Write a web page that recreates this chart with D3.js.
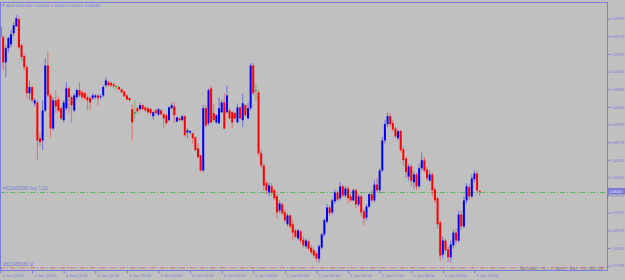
<!DOCTYPE html>
<html>
<head>
<meta charset="utf-8">
<script src="https://cdn.jsdelivr.net/npm/d3@7"></script>
<style>
body { margin: 0; background: #c0c0c0; }
svg { display: block; }
</style>
</head>
<body>
<svg id="chart" width="625" height="280"></svg>
<script>
var width = 625, height = 280;

var symbol = "AUDUSD,M5";
var startTime = new Date(2023, 0, 4, 19, 0);   // first bar, 5 minute bars

var opens = [
 0.68534,0.68511,0.68454,0.68486,0.68495,0.68520,0.68536,0.68552,0.68493,0.68468,
 0.68443,0.68384,0.68398,0.68361,0.68363,0.68282,0.68277,0.68345,0.68447,0.68379,
 0.68304,0.68368,0.68370,0.68350,0.68323,0.68350,0.68395,0.68375,0.68345,0.68375,
 0.68391,0.68386,0.68384,0.68375,0.68373,0.68373,0.68375,0.68379,0.68375,0.68379,
 0.68402,0.68409,0.68407,0.68404,0.68400,0.68398,0.68393,0.68388,0.68379,0.68373,
 0.68348,0.68341,0.68350,0.68348,0.68357,0.68352,0.68350,0.68348,0.68332,0.68345,
 0.68336,0.68345,0.68336,0.68334,0.68323,0.68350,0.68354,0.68320,0.68327,0.68323,
 0.68332,0.68295,0.68295,0.68293,0.68284,0.68259,0.68243,0.68209,0.68350,0.68316,
 0.68395,0.68339,0.68318,0.68316,0.68341,0.68363,0.68341,0.68345,0.68341,0.68339,
 0.68318,0.68352,0.68323,0.68357,0.68327,0.68350,0.68447,0.68391,0.68386,0.68248,
 0.68220,0.68180,0.68159,0.68173,0.68164,0.68150,0.68118,0.68132,0.68114,0.68087,
 0.68107,0.68087,0.68073,0.68055,0.68071,0.68052,0.68037,0.68048,0.68034,0.68028,
 0.68021,0.68009,0.68034,0.68064,0.68093,0.68125,0.68114,0.68139,0.68159,0.68146,
 0.68173,0.68152,0.68168,0.68150,0.68141,0.68164,0.68132,0.68150,0.68116,0.68102,
 0.68127,0.68155,0.68141,0.68177,0.68164,0.68209,0.68277,0.68314,0.68332,0.68316,
 0.68304,0.68282,0.68298,0.68257,0.68236,0.68195,0.68218,0.68182,0.68200,0.68173,
 0.68214,0.68232,0.68211,0.68186,0.68200,0.68166,0.68146,0.68091,0.68018,0.68050,
 0.68030,0.68012,0.68039,0.68068,0.68050,0.68109,0.68082,0.68141,0.68171,0.68150,
 0.68189,0.68202,0.68163
];
var highs = [
 0.68540,0.68516,0.68493,0.68513,0.68527,0.68545,0.68561,0.68559,0.68497,0.68472,
 0.68447,0.68413,0.68402,0.68373,0.68368,0.68293,0.68368,0.68463,0.68477,0.68384,
 0.68375,0.68391,0.68377,0.68354,0.68368,0.68409,0.68400,0.68379,0.68384,0.68395,
 0.68409,0.68391,0.68388,0.68379,0.68377,0.68384,0.68382,0.68382,0.68382,0.68402,
 0.68420,0.68413,0.68411,0.68407,0.68402,0.68400,0.68395,0.68391,0.68382,0.68375,
 0.68359,0.68368,0.68354,0.68363,0.68359,0.68354,0.68352,0.68350,0.68343,0.68350,
 0.68350,0.68348,0.68339,0.68339,0.68354,0.68363,0.68363,0.68332,0.68329,0.68334,
 0.68334,0.68304,0.68300,0.68295,0.68286,0.68270,0.68245,0.68357,0.68357,0.68395,
 0.68400,0.68361,0.68336,0.68375,0.68368,0.68384,0.68402,0.68350,0.68343,0.68341,
 0.68361,0.68354,0.68384,0.68359,0.68363,0.68452,0.68452,0.68407,0.68391,0.68255,
 0.68225,0.68186,0.68182,0.68180,0.68168,0.68155,0.68141,0.68137,0.68121,0.68112,
 0.68109,0.68096,0.68077,0.68077,0.68075,0.68059,0.68055,0.68052,0.68039,0.68032,
 0.68025,0.68041,0.68068,0.68100,0.68132,0.68130,0.68146,0.68166,0.68164,0.68182,
 0.68177,0.68173,0.68173,0.68155,0.68168,0.68168,0.68155,0.68155,0.68121,0.68132,
 0.68159,0.68164,0.68186,0.68191,0.68214,0.68286,0.68323,0.68341,0.68339,0.68323,
 0.68309,0.68302,0.68302,0.68264,0.68241,0.68223,0.68223,0.68207,0.68205,0.68225,
 0.68250,0.68239,0.68218,0.68209,0.68205,0.68173,0.68150,0.68096,0.68059,0.68055,
 0.68037,0.68050,0.68075,0.68077,0.68118,0.68118,0.68150,0.68180,0.68177,0.68200,
 0.68209,0.68209,0.68163
];
var lows = [
 0.68504,0.68436,0.68420,0.68477,0.68488,0.68513,0.68534,0.68484,0.68459,0.68436,
 0.68373,0.68368,0.68363,0.68354,0.68232,0.68264,0.68255,0.68341,0.68375,0.68284,
 0.68300,0.68339,0.68341,0.68323,0.68318,0.68345,0.68339,0.68318,0.68341,0.68370,
 0.68375,0.68370,0.68368,0.68345,0.68345,0.68368,0.68370,0.68357,0.68370,0.68375,
 0.68398,0.68398,0.68398,0.68395,0.68391,0.68391,0.68384,0.68375,0.68368,0.68366,
 0.68277,0.68327,0.68339,0.68345,0.68345,0.68341,0.68336,0.68334,0.68323,0.68336,
 0.68332,0.68334,0.68304,0.68314,0.68320,0.68348,0.68318,0.68318,0.68320,0.68320,
 0.68286,0.68282,0.68291,0.68270,0.68252,0.68236,0.68205,0.68205,0.68307,0.68311,
 0.68314,0.68320,0.68314,0.68314,0.68339,0.68302,0.68339,0.68325,0.68304,0.68325,
 0.68316,0.68325,0.68307,0.68332,0.68325,0.68345,0.68379,0.68368,0.68243,0.68214,
 0.68164,0.68155,0.68150,0.68152,0.68141,0.68100,0.68112,0.68107,0.68091,0.68082,
 0.68077,0.68050,0.68055,0.68050,0.68043,0.68034,0.68032,0.68028,0.68018,0.68012,
 0.68002,0.68000,0.68030,0.68059,0.68089,0.68105,0.68109,0.68134,0.68139,0.68141,
 0.68148,0.68148,0.68134,0.68137,0.68139,0.68123,0.68127,0.68105,0.68084,0.68096,
 0.68123,0.68137,0.68137,0.68159,0.68157,0.68205,0.68270,0.68307,0.68309,0.68298,
 0.68282,0.68277,0.68250,0.68220,0.68191,0.68186,0.68173,0.68168,0.68164,0.68168,
 0.68209,0.68205,0.68186,0.68182,0.68150,0.68134,0.68077,0.68005,0.68009,0.68021,
 0.68000,0.68000,0.68032,0.68043,0.68046,0.68073,0.68077,0.68134,0.68143,0.68146,
 0.68182,0.68157,0.68151
];
var closes = [
 0.68511,0.68454,0.68486,0.68509,0.68518,0.68538,0.68554,0.68488,0.68466,0.68443,
 0.68384,0.68398,0.68368,0.68368,0.68277,0.68273,0.68345,0.68447,0.68379,0.68304,
 0.68368,0.68354,0.68345,0.68327,0.68363,0.68395,0.68375,0.68357,0.68379,0.68391,
 0.68379,0.68375,0.68373,0.68368,0.68363,0.68379,0.68379,0.68373,0.68377,0.68398,
 0.68413,0.68402,0.68402,0.68400,0.68400,0.68393,0.68386,0.68377,0.68370,0.68368,
 0.68318,0.68341,0.68343,0.68357,0.68348,0.68345,0.68341,0.68339,0.68341,0.68339,
 0.68348,0.68336,0.68327,0.68316,0.68352,0.68357,0.68334,0.68329,0.68323,0.68332,
 0.68289,0.68300,0.68298,0.68282,0.68255,0.68239,0.68209,0.68350,0.68311,0.68391,
 0.68318,0.68323,0.68334,0.68350,0.68363,0.68304,0.68379,0.68327,0.68318,0.68327,
 0.68352,0.68327,0.68361,0.68334,0.68350,0.68447,0.68384,0.68391,0.68248,0.68220,
 0.68175,0.68164,0.68175,0.68159,0.68146,0.68114,0.68134,0.68112,0.68096,0.68107,
 0.68082,0.68068,0.68059,0.68073,0.68050,0.68039,0.68050,0.68032,0.68023,0.68016,
 0.68009,0.68037,0.68064,0.68096,0.68125,0.68112,0.68141,0.68159,0.68143,0.68173,
 0.68152,0.68168,0.68146,0.68141,0.68164,0.68132,0.68150,0.68114,0.68100,0.68127,
 0.68155,0.68141,0.68177,0.68164,0.68209,0.68277,0.68314,0.68332,0.68314,0.68302,
 0.68286,0.68298,0.68255,0.68232,0.68205,0.68218,0.68186,0.68200,0.68173,0.68214,
 0.68232,0.68209,0.68191,0.68200,0.68164,0.68141,0.68087,0.68016,0.68050,0.68028,
 0.68012,0.68041,0.68068,0.68050,0.68109,0.68082,0.68141,0.68173,0.68150,0.68191,
 0.68202,0.68164,0.68162
];

var priceTicks = [0.68553,0.68513,0.68473,0.68433,0.68393,0.68353,0.68313,0.68273,
                  0.68233,0.68193,0.68153,0.68113,0.68073,0.68033,0.67993];
var timeTickLabels = ["4 Jan 2023","4 Jan 20:00","4 Jan 21:00","4 Jan 22:00","4 Jan 23:00",
  "5 Jan 00:00","5 Jan 01:00","5 Jan 02:00","5 Jan 03:00","5 Jan 04:00","5 Jan 05:00",
  "5 Jan 06:00","5 Jan 07:00","5 Jan 08:00","5 Jan 09:00","5 Jan 10:00"];

var buyTicket = "#321458080 buy 1.00", buyPrice = 0.68159;
var slTicket = "#321458080 sl", slPrice = 0.67988;
var infoText = "Spread: 4... Next Bar in 03:39";

var axisColor = "#7c7cd8";
var font = "Liberation Sans, Arial, sans-serif";

var bars = opens.map(function(o, i) {
	return {t: new Date(startTime.getTime() + i * 300000), o: o, h: highs[i], l: lows[i], c: closes[i]};
});
var lastBar = bars[bars.length - 1];

var plotRight = 607.5, plotTop = 2.5, plotBottom = 270.5;

var x = d3.scaleTime()
	.domain([startTime, lastBar.t])
	.range([0.5, 0.5 + 2.633 * (bars.length - 1)]);
var y = d3.scaleLinear()
	.domain([0.67993, 0.68553])
	.range([265.7, 18.7]);

var svg = d3.select("#chart");
svg.append("rect").attr("width", width).attr("height", height).attr("fill", "#c0c0c0");

// order lines
function orderLine(price, color, label) {
	svg.append("line")
		.attr("x1", 0).attr("x2", plotRight - 2)
		.attr("y1", y(price)).attr("y2", y(price))
		.attr("stroke", color).attr("stroke-width", 1)
		.attr("stroke-opacity", 0.8)
		.attr("stroke-dasharray", "5,2,1,2");
	svg.append("text")
		.attr("x", 3).attr("y", y(price) - 2)
		.attr("font-family", font).attr("font-size", 4.6)
		.attr("fill", axisColor)
		.text(label);
}
orderLine(buyPrice, "#46b04f", buyTicket);
orderLine(slPrice, "#d86060", slTicket);

// candles
function barColor(d) {
	if (d.c > d.o) return "#0000ff";
	if (d.c < d.o) return "#ff0000";
	return "#13a313";
}
var candles = svg.append("g").selectAll("g").data(bars).join("g");
candles.append("line")
	.attr("x1", function(d) { return x(d.t); })
	.attr("x2", function(d) { return x(d.t); })
	.attr("y1", function(d) { return y(d.h); })
	.attr("y2", function(d) { return y(d.l); })
	.attr("stroke", barColor)
	.attr("stroke-opacity", 0.42)
	.attr("stroke-width", 1);
candles.append("rect")
	.attr("x", function(d) { return x(d.t) - 1; })
	.attr("width", 2)
	.attr("y", function(d) { return y(Math.max(d.o, d.c)); })
	.attr("height", function(d) { return Math.max(1, Math.abs(y(d.o) - y(d.c))); })
	.attr("fill", barColor);

// frame
svg.append("rect")
	.attr("x", 0.5).attr("y", plotTop)
	.attr("width", plotRight - 0.5).attr("height", plotBottom - plotTop)
	.attr("fill", "none").attr("stroke", axisColor).attr("stroke-width", 1);

// price axis
var yAxis = svg.append("g")
	.attr("transform", "translate(" + plotRight + ",0)")
	.call(d3.axisRight(y).tickValues(priceTicks).tickFormat(d3.format(".5f")).tickSize(2.5).tickPadding(0.8));
yAxis.select(".domain").remove();
yAxis.selectAll("line").attr("stroke", axisColor);
yAxis.selectAll("text").attr("fill", axisColor).attr("font-family", font).attr("font-size", 3.7);

// time axis
var timeTicks = timeTickLabels.map(function(s, i) { return new Date(startTime.getTime() + i * 3600000); });
var xAxis = svg.append("g")
	.attr("transform", "translate(0," + plotBottom + ")")
	.call(d3.axisBottom(x).tickValues(timeTicks)
		.tickFormat(function(d, i) { return timeTickLabels[i]; })
		.tickSize(3).tickPadding(1));
xAxis.select(".domain").remove();
xAxis.selectAll("line").attr("stroke", axisColor);
xAxis.selectAll("text")
	.attr("fill", axisColor).attr("font-family", font).attr("font-size", 4.2)
	.attr("text-anchor", "start").attr("dx", 1.5).attr("dy", "0.55em");

// current price box
var lastY = y(lastBar.c);
svg.append("rect")
	.attr("x", plotRight).attr("y", lastY - 3.2)
	.attr("width", 17.5).attr("height", 6.4)
	.attr("fill", "#7a7ad6");
svg.append("text")
	.attr("x", plotRight + 1.8).attr("y", lastY + 1.4)
	.attr("font-family", font).attr("font-size", 3.7).attr("fill", "#e8e8ff")
	.text(d3.format(".5f")(lastBar.c));

// header
svg.append("text")
	.attr("x", 1).attr("y", 6.8)
	.attr("font-family", font).attr("font-size", 4.4).attr("fill", axisColor)
	.text("\u25BC " + symbol + "  " + [lastBar.o, lastBar.h, lastBar.l, lastBar.c].map(d3.format(".5f")).join(" "));

// spread / timer text
svg.append("text")
	.attr("x", 603).attr("y", 270.3)
	.attr("text-anchor", "end")
	.attr("font-family", "DejaVu Sans Mono, monospace").attr("font-size", 4.6)
	.attr("fill", "#7d7d8c")
	.text(infoText);
</script>
</body>
</html>
